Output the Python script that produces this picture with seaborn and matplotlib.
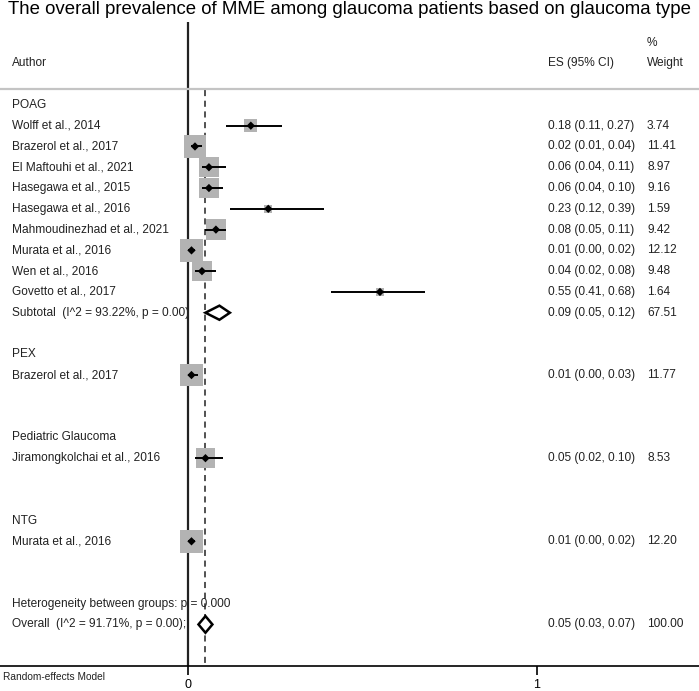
import matplotlib
matplotlib.use("Agg")
import matplotlib.pyplot as plt
from matplotlib.patches import Polygon
import seaborn as sns
import pandas as pd

# studies (per glaucoma type)
groups = ["POAG", "PEX", "Pediatric Glaucoma", "NTG"]
authors = [
    ["Wolff et al., 2014", "Brazerol et al., 2017", "El Maftouhi et al., 2021",
     "Hasegawa et al., 2015", "Hasegawa et al., 2016", "Mahmoudinezhad et al., 2021",
     "Murata et al., 2016", "Wen et al., 2016", "Govetto et al., 2017"],
    ["Brazerol et al., 2017"],
    ["Jiramongkolchai et al., 2016"],
    ["Murata et al., 2016"],
]
es = [[0.18, 0.02, 0.06, 0.06, 0.23, 0.08, 0.01, 0.04, 0.55], [0.01], [0.05], [0.01]]
lo = [[0.11, 0.01, 0.04, 0.04, 0.12, 0.05, 0.00, 0.02, 0.41], [0.00], [0.02], [0.00]]
hi = [[0.27, 0.04, 0.11, 0.10, 0.39, 0.11, 0.02, 0.08, 0.68], [0.03], [0.10], [0.02]]
weight = [[3.74, 11.41, 8.97, 9.16, 1.59, 9.42, 12.12, 9.48, 1.64], [11.77], [8.53], [12.20]]

# subtotal (only POAG has more than one study)
sub_label = "Subtotal  (I^2 = 93.22%, p = 0.00)"
sub_es, sub_lo, sub_hi, sub_w = 0.09, 0.05, 0.12, 67.51

het_label = "Heterogeneity between groups: p = 0.000"
overall_label = "Overall  (I^2 = 91.71%, p = 0.00);"
ov_es, ov_lo, ov_hi, ov_w = 0.05, 0.03, 0.07, 100.00

title = "The overall prevalence of MME among glaucoma patients based on glaucoma type"

sns.set_style("white")
plt.rcParams["font.family"] = ["Liberation Sans", "DejaVu Sans"]

# build row table
rows = []
r = 0
headers = []
subtotals = []
for g, a_list, e_list, l_list, h_list, w_list in zip(groups, authors, es, lo, hi, weight):
    headers.append((r, g))
    r += 1
    for a, e, l, h, w in zip(a_list, e_list, l_list, h_list, w_list):
        rows.append(dict(row=r, author=a, es=e, lo=l, hi=h, w=w))
        r += 1
    if len(a_list) > 1:
        subtotals.append((r, sub_label, sub_es, sub_lo, sub_hi, sub_w))
    r += 2
het_row = r
ov_row = r + 1
df = pd.DataFrame(rows)

fig = plt.figure(figsize=(6.99, 6.91), dpi=100)
ax = fig.add_axes([0, 25 / 691, 1, 666 / 691])
ax.set_xlim(-188 / 349, 511 / 349)
ax.set_ylim(27, -105 / 20.8)

txt = dict(fontsize=8.6, color="#222222", va="center")
tr = ax.get_yaxis_transform()
col_author, col_es, col_w = 12 / 699, 548 / 699, 647 / 699

# header
ax.text(col_author, -2.02, "Author", transform=tr, **txt)
ax.text(col_es, -2.02, "ES (95% CI)", transform=tr, **txt)
ax.text(col_w, -2.02, "Weight", transform=tr, **txt)
ax.text(col_w, -2.98, "%", transform=tr, **txt)
ax.axhline(-0.77, color="#c4c4c4", lw=1.6)

# reference lines
ax.vlines(0, -3.99, 27, color="#222222", lw=1.6, zorder=1)
ax.vlines(ov_es, -0.72, 27, color="#222222", lw=1.1, linestyles=(0, (4, 3)), zorder=1)

# weight boxes and estimates
sns.scatterplot(data=df, x="es", y="row", size="w", sizes=(23 * df.w.min(), 23 * df.w.max()),
                marker="s", color="#b3b3b3", edgecolor="none", legend=False, ax=ax, zorder=2)
ax.hlines(df.row, df.lo, df.hi, color="black", lw=1.4, zorder=3)
sns.scatterplot(data=df, x="es", y="row", marker="D", color="black", s=18,
                edgecolor="none", legend=False, ax=ax, zorder=4)

for _, d in df.iterrows():
    ax.text(col_author, d.row, d.author, transform=tr, **txt)
    ax.text(col_es, d.row, f"{d.es:.2f} ({d.lo:.2f}, {d.hi:.2f})", transform=tr, **txt)
    ax.text(col_w, d.row, f"{d.w:.2f}", transform=tr, **txt)

for hr, g in headers:
    ax.text(col_author, hr, g, transform=tr, **txt)


def diamond(row, e, l, h, half=0.34):
    poly = Polygon([(l, row), (e, row - half), (h, row), (e, row + half)], closed=True,
                   facecolor="white", edgecolor="black", lw=1.8, zorder=5)
    ax.add_patch(poly)


for sr, lab, e, l, h, w in subtotals:
    ax.text(col_author, sr, lab, transform=tr, zorder=0, **txt)
    diamond(sr, e, l, h)
    ax.text(col_es, sr, f"{e:.2f} ({l:.2f}, {h:.2f})", transform=tr, **txt)
    ax.text(col_w, sr, f"{w:.2f}", transform=tr, **txt)

ax.text(col_author, het_row, het_label, transform=tr, zorder=0, **txt)
ax.text(col_author, ov_row, overall_label, transform=tr, zorder=0, **txt)
diamond(ov_row, ov_es, ov_lo, ov_hi, half=0.4)
ax.text(col_es, ov_row, f"{ov_es:.2f} ({ov_lo:.2f}, {ov_hi:.2f})", transform=tr, **txt)
ax.text(col_w, ov_row, f"{ov_w:.2f}", transform=tr, **txt)

# axis
for s in ["top", "left", "right"]:
    ax.spines[s].set_visible(False)
ax.spines["bottom"].set_color("black")
ax.spines["bottom"].set_linewidth(1.2)
ax.set_xticks([0, 1])
ax.set_xticklabels(["0", "1"])
ax.tick_params(axis="x", length=6.5, width=1.2, pad=2.5, labelsize=9, colors="black", bottom=True)
ax.set_yticks([])
ax.set_xlabel("")
ax.set_ylabel("")

fig.text(3 / 699, 1 - 677 / 691, "Random-effects Model", fontsize=7.3, color="#222222", va="center")
fig.text(0.5, 1 - 10 / 691, title, fontsize=13.4, color="black", ha="center", va="center")

fig.savefig("out.png", dpi=100)
